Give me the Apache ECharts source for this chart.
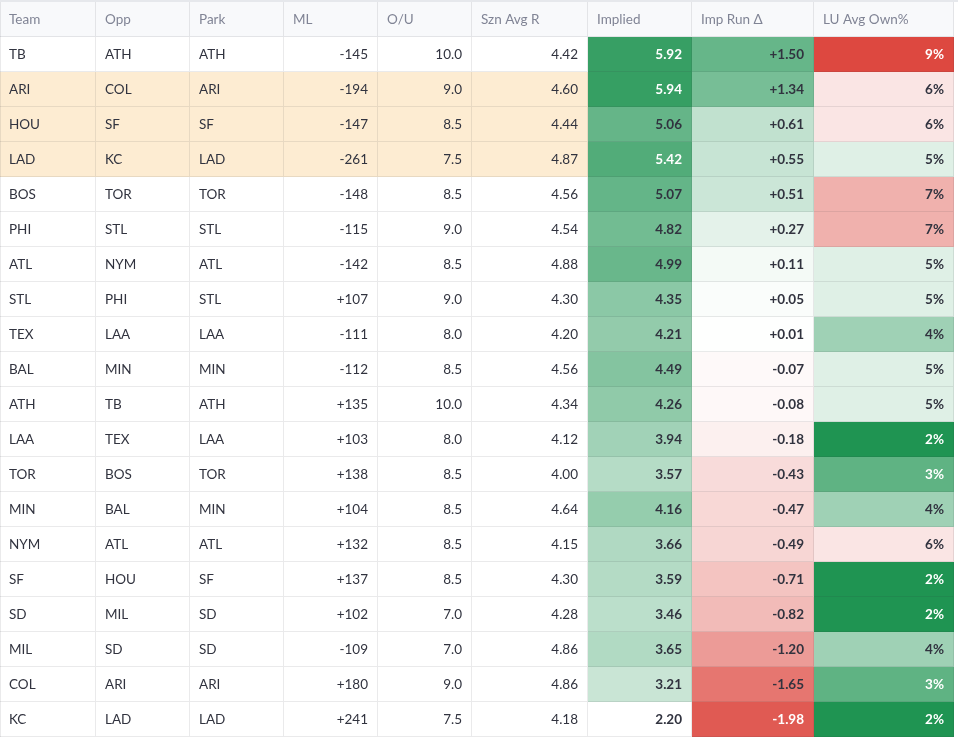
<!DOCTYPE html>
<html>
<head>
<meta charset="utf-8">
<script src="https://cdn.jsdelivr.net/npm/echarts@6/dist/echarts.min.js"></script>
<style>
html, body { margin: 0; padding: 0; background: #fff; }
#chart { width: 958px; height: 738px; }
</style>
</head>
<body>
<div id="chart"></div>
<script>
// table data
var headers = ['Team', 'Opp', 'Park', 'ML', 'O/U', 'Szn Avg R', 'Implied', 'Imp Run Δ', 'LU Avg Own%'];
var teams = ['TB','ARI','HOU','LAD','BOS','PHI','ATL','STL','TEX','BAL','ATH','LAA','TOR','MIN','NYM','SF','SD','MIL','COL','KC'];
var opps  = ['ATH','COL','SF','KC','TOR','STL','NYM','PHI','LAA','MIN','TB','TEX','BOS','BAL','ATL','HOU','MIL','SD','ARI','LAD'];
var parks = ['ATH','ARI','SF','LAD','TOR','STL','ATL','STL','LAA','MIN','ATH','LAA','TOR','MIN','ATL','SF','SD','SD','ARI','LAD'];
var moneyLine = [-145,-194,-147,-261,-148,-115,-142,107,-111,-112,135,103,138,104,132,137,102,-109,180,241];
var overUnder = [10.0,9.0,8.5,7.5,8.5,9.0,8.5,9.0,8.0,8.5,10.0,8.0,8.5,8.5,8.5,8.5,7.0,7.0,9.0,7.5];
var seasonAvgRuns = [4.42,4.60,4.44,4.87,4.56,4.54,4.88,4.30,4.20,4.56,4.34,4.12,4.00,4.64,4.15,4.30,4.28,4.86,4.86,4.18];
var implied = [5.92,5.94,5.06,5.42,5.07,4.82,4.99,4.35,4.21,4.49,4.26,3.94,3.57,4.16,3.66,3.59,3.46,3.65,3.21,2.20];
var impRunDelta = [1.50,1.34,0.61,0.55,0.51,0.27,0.11,0.05,0.01,-0.07,-0.08,-0.18,-0.43,-0.47,-0.49,-0.71,-0.82,-1.20,-1.65,-1.98];
var luAvgOwn = [9,6,6,5,7,7,5,5,4,5,5,2,3,4,6,2,2,4,3,2];
var highlightTeams = ['ARI','HOU','LAD'];

// layout
var COL_EDGES = [0, 96, 190, 284, 378, 472, 588, 692, 814, 954];
var TEXT = '#31333f', HEAD_TEXT = '#808495', HEAD_BG = '#f8f9fb', HILITE = '#fdecd2';
var GREEN = [31, 148, 82], RED = [221, 72, 64];
var FONT = 'Lato, "Source Sans Pro", sans-serif';

function tint(base, a) {
	a = Math.max(0, Math.min(1, a));
	var c = base.map(function (v) { return Math.round(255 - (255 - v) * a); });
	var lum = 0.299 * c[0] + 0.587 * c[1] + 0.114 * c[2];
	return { fill: 'rgb(' + c.join(',') + ')', text: lum < 149.5 ? '#ffffff' : TEXT };
}
function fmt2(v) { return v.toFixed(2); }
function signed(v, d) { return (v > 0 ? '+' : '') + v.toFixed(d); }

var rowLabels = ['header'].concat(teams);
var cells = [];
headers.forEach(function (h, c) {
	cells.push({ col: c, row: 0, text: h, fill: HEAD_BG, color: HEAD_TEXT, align: 'left', bold: false });
});
teams.forEach(function (t, i) {
	var r = i + 1;
	var bg = highlightTeams.indexOf(t) >= 0 ? HILITE : '#ffffff';
	var plain = [
		[t, 'left'], [opps[i], 'left'], [parks[i], 'left'],
		[signed(moneyLine[i], 0), 'right'], [overUnder[i].toFixed(1), 'right'], [fmt2(seasonAvgRuns[i]), 'right']
	];
	plain.forEach(function (p, c) {
		cells.push({ col: c, row: r, text: p[0], fill: bg, color: TEXT, align: p[1], bold: false });
	});
	var ci = tint(GREEN, (implied[i] - 2.2) / 4.16);
	cells.push({ col: 6, row: r, text: fmt2(implied[i]), fill: ci.fill, color: ci.text, align: 'right', bold: true });
	var d = impRunDelta[i];
	var cd = tint(d >= 0 ? GREEN : RED, Math.abs(d) / 2.2);
	cells.push({ col: 7, row: r, text: signed(d, 2), fill: cd.fill, color: cd.text, align: 'right', bold: true });
	var o = (5.5 - luAvgOwn[i]) / 3.5;
	var co = tint(o >= 0 ? GREEN : RED, Math.abs(o));
	cells.push({ col: 8, row: r, text: luAvgOwn[i] + '%', fill: co.fill, color: co.text, align: 'right', bold: true });
});

var chart = echarts.init(document.getElementById('chart'));
chart.setOption({
	animation: false,
	backgroundColor: '#ffffff',
	grid: { left: 0, right: 0, top: 2, bottom: 1 },
	xAxis: { type: 'value', min: 0, max: 958, show: false },
	yAxis: { type: 'category', data: rowLabels, inverse: true, show: false },
	graphic: [
		{ type: 'rect', shape: { x: 0, y: 0, width: 958, height: 2 }, style: { fill: '#e6e8ec' }, z: 10 },
		{ type: 'line', shape: { x1: 0.5, y1: 2, x2: 0.5, y2: 737 }, style: { stroke: 'rgba(49,51,63,0.1)', lineWidth: 1 }, z: 10 }
	],
	series: [{
		type: 'custom',
		data: cells.map(function (c) { return [c.col, c.row]; }),
		renderItem: function (params, api) {
			var cell = cells[params.dataIndex];
			var p0 = api.coord([COL_EDGES[cell.col], cell.row]);
			var p1 = api.coord([COL_EDGES[cell.col + 1], cell.row]);
			var h = api.size([0, 1])[1];
			var x0 = Math.round(p0[0]), x1 = Math.round(p1[0]);
			var y0 = Math.round(p0[1] - h / 2), y1 = Math.round(p0[1] + h / 2);
			return {
				type: 'group',
				children: [
					{ type: 'rect', shape: { x: x0, y: y0, width: x1 - x0, height: y1 - y0 }, style: { fill: cell.fill } },
					{ type: 'polyline', shape: { points: [[x1 - 0.5, y0], [x1 - 0.5, y1 - 0.5], [x0, y1 - 0.5]] },
					  style: { stroke: 'rgba(49,51,63,0.1)', lineWidth: 1, fill: null } },
					{ type: 'text', style: {
						text: cell.text,
						x: cell.align === 'right' ? x1 - 10 : x0 + 9,
						y: (y0 + y1) / 2 + 0.5,
						align: cell.align,
						verticalAlign: 'middle',
						fill: cell.color,
						fontSize: 13.5,
						fontFamily: FONT,
						fontWeight: cell.bold ? 'bold' : 'normal'
					} }
				]
			};
		}
	}]
});
</script>
</body>
</html>
